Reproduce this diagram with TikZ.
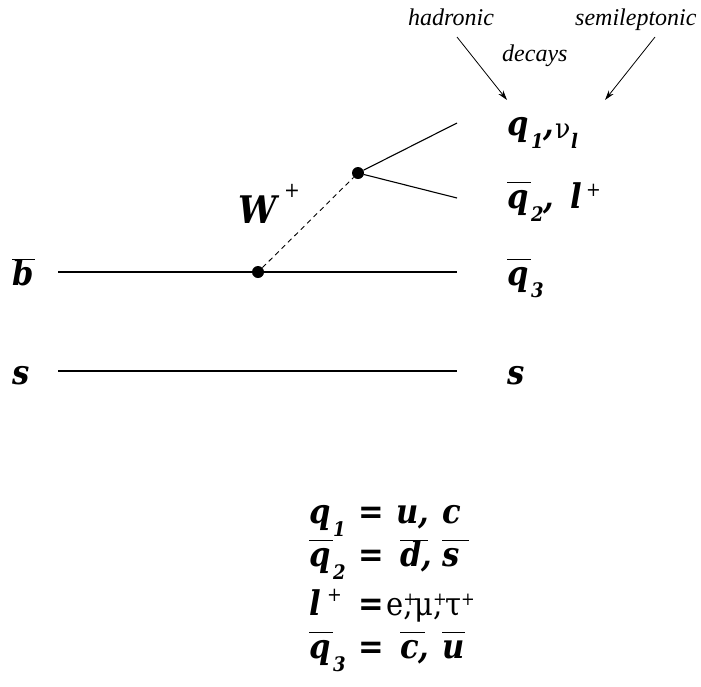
\documentclass[tikz,border=0pt]{standalone}
\usepackage{fontspec}
\usepackage{graphicx}
\setmainfont{Liberation Serif}
\newfontfamily\dvc{DejaVu Serif Condensed}
\usetikzlibrary{arrows.meta}
\newcommand\BI[1]{{\dvc\fontsize{34}{34}\selectfont\bfseries\itshape #1}}
\newcommand\SB[1]{{\dvc\fontsize{20}{20}\selectfont\bfseries\itshape #1}}
\newcommand\RG[2][26]{\scalebox{1.4}{\dvc\fontsize{#1}{#1}\selectfont\mdseries\upshape #2}}
\newcommand\ovl[2][3pt]{\setbox0\hbox{#2}\rlap{\raisebox{25pt}{\rule{\dimexpr\wd0+#1\relax}{1.5pt}}}\box0}
\newcommand\pl[1][14]{\RG[#1]{+}}
\begin{document}
\begin{tikzpicture}[x=1pt,y=-1pt,
  lbl/.style={inner sep=0pt,anchor=base west},
  prop/.style={line width=1.1pt},
  vtx/.style={circle,fill=black,inner sep=0pt,minimum size=12pt},
  wline/.style={line width=0.9pt,dash pattern=on 5pt off 4pt},
  arr/.style={line width=0.8pt,-{Stealth[length=10pt,width=6pt]}}]
\useasboundingbox (0,0) rectangle (701,686);
% lines
\coordinate (bL) at (58,272); \coordinate (bR) at (457,272);
\coordinate (sL) at (58,371); \coordinate (sR) at (457,371);
\coordinate (u1) at (457,123); \coordinate (u2) at (457,198);
\node[vtx] (v1) at (258,272) {};
\node[vtx] (v2) at (358,173) {};
\draw[prop] (bL) -- (v1) -- (bR);
\draw[prop] (sL) -- (sR);
\draw[prop] (v2) -- (u1);
\draw[prop] (v2) -- (u2);
\draw[wline] (v1) -- (v2);
% labels left/right
\node[lbl] (bbar) at (12,285) {\BI{\ovl[1pt]{b}}};
\node[lbl] (sin) at (12,384) {\BI{s}};
\node[lbl] (q3) at (507,285) {\BI{\ovl[2pt]{q}}};
\node[lbl] (q3s) at (531,297) {\SB{3}};
\node[lbl] (sout) at (507,384) {\BI{s}};
\node[lbl] (q1) at (507,135) {\BI{q}};
\node[lbl] (q1s) at (531,148) {\SB{1}};
\node[lbl] (q1c) at (543,135) {\BI{,}};
\node[lbl] (nu) at (555,138) {\RG[20]{ν}};
\node[lbl] (nus) at (571,148) {\SB{l}};
\node[lbl] (q2) at (507,208) {\BI{\ovl[2pt]{q}}};
\node[lbl] (q2s) at (531,221) {\SB{2}};
\node[lbl] (q2c) at (543,208) {\BI{,}};
\node[lbl] (lp) at (570,208) {\BI{l}};
\node[lbl] (lps) at (586,196) {\pl};
\node[lbl] (W) at (238,223) {{\dvc\fontsize{38}{38}\selectfont\bfseries\itshape W}};
\node[lbl] (Wp) at (284,197) {\pl[15]};
% top texts
\node[lbl] (had) at (408,25) {{\fontsize{24}{24}\selectfont\itshape hadronic}};
\node[lbl] (semi) at (575,25) {{\fontsize{24}{24}\selectfont\itshape semileptonic}};
\node[lbl] (dec) at (502,61) {{\fontsize{24}{24}\selectfont\itshape decays}};
\coordinate (a1s) at (457,37); \coordinate (a1e) at (507,100);
\coordinate (a2s) at (655,37); \coordinate (a2e) at (605,100);
\draw[arr] (a1s) -- (a1e);
\draw[arr] (a2s) -- (a2e);
% bottom list
\node[lbl] (L1a) at (309,523) {\BI{q}};
\node[lbl] (L1s) at (333,536) {\SB{1}};
\node[lbl] (L1e) at (358,523) {\BI{=}};
\node[lbl] (L1u) at (396,523) {\BI{u,}};
\node[lbl] (L1c) at (442,523) {\BI{c}};
\node[lbl] (L2a) at (309,566) {\BI{\ovl[2pt]{q}}};
\node[lbl] (L2s) at (333,579) {\SB{2}};
\node[lbl] (L2e) at (358,566) {\BI{=}};
\node[lbl] (L2d) at (400,566) {\BI{\ovl[-4pt]{d,}}};
\node[lbl] (L2f) at (442,566) {\BI{\ovl[10pt]{s}}};
\node[lbl] (L3a) at (309,615) {\BI{l}};
\node[lbl] (L3p) at (327,601) {\pl};
\node[lbl] (L3e) at (358,615) {\BI{=}};
\node[lbl] (L3x) at (386,615) {\RG[23]{e\rlap{\raisebox{7pt}{\fontsize{13}{13}\selectfont +}},}};
\node[lbl] (L3m) at (414,615) {\RG[23]{μ\rlap{\raisebox{7pt}{\fontsize{13}{13}\selectfont +}},}};
\node[lbl] (L3t) at (445,615) {\RG[23]{τ\raisebox{7pt}{\fontsize{13}{13}\selectfont +}}};
\node[lbl] (L4a) at (309,658) {\BI{\ovl[2pt]{q}}};
\node[lbl] (L4s) at (333,671) {\SB{3}};
\node[lbl] (L4e) at (358,658) {\BI{=}};
\node[lbl] (L4c) at (400,658) {\BI{\ovl[-4pt]{c,}}};
\node[lbl] (L4u) at (442,658) {\BI{\ovl[1pt]{u}}};
\end{tikzpicture}
\end{document}
